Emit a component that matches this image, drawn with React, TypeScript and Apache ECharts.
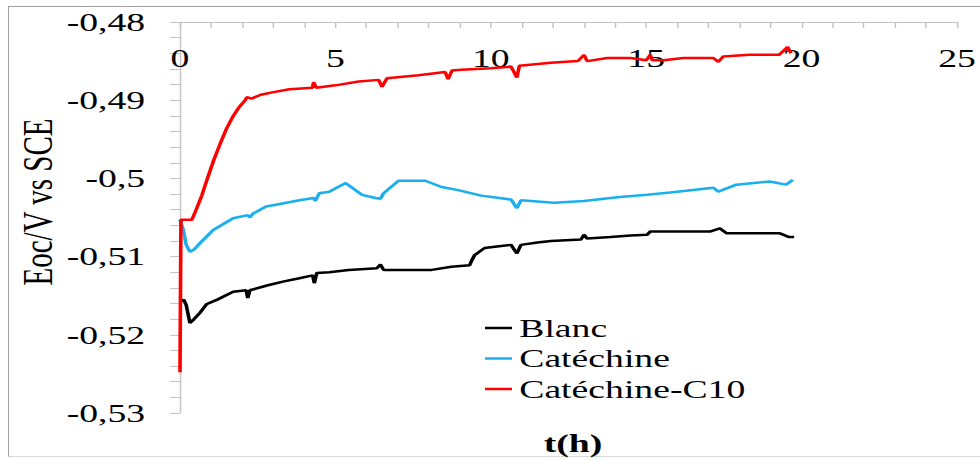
import React, { useEffect, useRef } from "react";
import * as echarts from "echarts";

// ---- data (t in hours, Eoc in V vs SCE) ----
const seriesNames = ["Blanc", "Catéchine", "Catéchine-C10"];
const seriesColors = ["#000000", "#1AB0EE", "#FF0000"];

const blanc: [number, number][] = [
  [0.03, -0.5157], [0.12, -0.5155], [0.2, -0.5162], [0.32, -0.5185], [0.45, -0.518],
  [0.64, -0.5172], [0.85, -0.5161], [1.2, -0.5155], [1.71, -0.5145], [2.13, -0.5143],
  [2.18, -0.5153], [2.25, -0.5143], [2.8, -0.5137], [3.31, -0.5132], [3.8, -0.5128],
  [4.27, -0.5124], [4.32, -0.5134], [4.4, -0.5121], [4.8, -0.512], [5.43, -0.5117],
  [6.33, -0.5115], [6.45, -0.511], [6.55, -0.5117], [7.3, -0.5117], [8.1, -0.5117],
  [8.73, -0.5113], [9.32, -0.5111], [9.4, -0.5104], [9.48, -0.5098], [9.8, -0.5089],
  [10.2, -0.5087], [10.65, -0.5085], [10.84, -0.5096], [10.97, -0.5085], [11.5, -0.5082],
  [11.93, -0.508], [12.9, -0.5078], [13.0, -0.5072], [13.1, -0.5077], [13.85, -0.5075],
  [14.5, -0.5073], [15.03, -0.5072], [15.13, -0.5068], [16.0, -0.5068], [17.05, -0.5068],
  [17.37, -0.5064], [17.58, -0.507], [18.5, -0.507], [19.28, -0.507], [19.6, -0.5075],
  [19.76, -0.5075],
];

const catechine: [number, number][] = [
  [0, -0.5053], [0.1, -0.5065], [0.2, -0.5085], [0.32, -0.5094], [0.45, -0.5091],
  [0.64, -0.5083], [1.07, -0.5066], [1.71, -0.5051], [2.18, -0.5047], [2.25, -0.505],
  [2.35, -0.5045], [2.77, -0.5036], [3.3, -0.5032], [3.84, -0.5028], [4.3, -0.5025],
  [4.35, -0.5029], [4.48, -0.5019], [4.8, -0.5017], [5.33, -0.5006], [5.86, -0.5021],
  [6.29, -0.5025], [6.45, -0.5026], [6.55, -0.5019], [7.03, -0.5003], [7.89, -0.5003],
  [8.42, -0.5011], [8.95, -0.5015], [9.69, -0.5022], [10.65, -0.5027], [10.84, -0.5038],
  [10.97, -0.5028], [12.04, -0.5031], [13.0, -0.5029], [14.07, -0.5024], [15.03, -0.5021],
  [15.77, -0.5018], [17.16, -0.5012], [17.32, -0.5017], [17.9, -0.5008], [18.97, -0.5004],
  [19.5, -0.5008], [19.72, -0.5002],
];

const catechineC10: [number, number][] = [
  [0, -0.5248], [0.03, -0.5053], [0.38, -0.5053], [0.5, -0.5042], [0.7, -0.5022],
  [0.9, -0.4998], [1.1, -0.4975], [1.3, -0.4955], [1.5, -0.4936], [1.7, -0.4921],
  [1.9, -0.4909], [2.1, -0.49], [2.15, -0.4896], [2.3, -0.4898], [2.6, -0.4893],
  [2.97, -0.489], [3.52, -0.4886], [4.26, -0.4884], [4.3, -0.4877], [4.38, -0.4884],
  [5.0, -0.4881], [5.75, -0.4876], [6.39, -0.4874], [6.5, -0.4883], [6.66, -0.4872],
  [7.67, -0.4868], [8.53, -0.4864], [8.63, -0.4873], [8.75, -0.4862], [9.06, -0.4861],
  [10.0, -0.4859], [10.65, -0.4857], [10.84, -0.4871], [10.92, -0.4856], [11.93, -0.4852],
  [12.8, -0.485], [13.0, -0.4842], [13.1, -0.485], [13.75, -0.4846], [14.5, -0.4846],
  [15.0, -0.4849], [15.13, -0.4842], [15.2, -0.4849], [15.56, -0.4849], [16.2, -0.4846],
  [17.16, -0.4846], [17.32, -0.4851], [17.48, -0.4844], [18.32, -0.4842], [19.28, -0.4842],
  [19.55, -0.4832], [19.66, -0.484],
];

const xRange = [0, 25];
const xStep = 5;
const yRange = [-0.53, -0.48];
const yStep = 0.01;

const yAxisTitle = "Eoc/V vs SCE";
const xAxisTitle = "t(h)";

// horizontal stretch of the original figure
const SX = 1.45;
const W = 676;
const H = 460;
const FONT = "Liberation Serif";

const labelRich = {
  t: { fontFamily: FONT, fontSize: 26, color: "#000", lineHeight: 26 },
};

export default function App() {
  const ref = useRef<HTMLDivElement>(null);

  useEffect(() => {
    if (!ref.current) return;
    const chart = echarts.init(ref.current, undefined, { renderer: "svg" });
    const allData = [blanc, catechine, catechineC10];
    chart.setOption({
      animation: false,
      backgroundColor: "transparent",
      textStyle: { fontFamily: FONT },
      grid: { left: 124.14, right: 12.55, top: 22, bottom: 47, containLabel: false },
      legend: {
        orient: "vertical",
        left: 334.5,
        top: 315,
        padding: 0,
        icon: "rect",
        itemWidth: 18.6,
        itemHeight: 2.5,
        itemGap: 4.5,
        data: seriesNames,
        formatter: (name: string) => `{t|${name}}`,
        textStyle: { fontFamily: FONT, fontSize: 26, color: "#000", lineHeight: 26, rich: labelRich },
      },
      xAxis: {
        type: "value",
        position: "top",
        min: xRange[0],
        max: xRange[1],
        interval: xStep,
        axisLine: { show: true, lineStyle: { color: "#c4c4c4", width: 1 } },
        axisTick: { show: true, inside: true, length: 6, lineStyle: { color: "#c4c4c4" } },
        minorTick: { show: true, splitNumber: 5, length: 6, lineStyle: { color: "#c4c4c4" } },
        axisLabel: {
          inside: true,
          margin: 23,
          fontFamily: FONT,
          fontSize: 26,
          color: "#000",
          formatter: (v: number) => `{t|${v}}`,
          rich: labelRich,
        },
        splitLine: { show: false },
      },
      yAxis: {
        type: "value",
        min: yRange[0],
        max: yRange[1],
        interval: yStep,
        axisLine: { show: true, lineStyle: { color: "#c4c4c4", width: 1 } },
        axisTick: { show: true, inside: false, length: 6.9, lineStyle: { color: "#c4c4c4" } },
        minorTick: { show: true, splitNumber: 5, length: 6.9, lineStyle: { color: "#c4c4c4" } },
        axisLabel: {
          margin: 24,
          fontFamily: FONT,
          fontSize: 26,
          color: "#000",
          formatter: (v: number) =>
            `{t|${String(Math.round(v * 100) / 100).replace(".", ",")}}`,
          rich: labelRich,
        },
        splitLine: { show: false },
      },
      graphic: [
        {
          type: "text",
          x: 25.9,
          y: 202,
          rotation: Math.PI / 2,
          style: {
            text: yAxisTitle,
            fontFamily: FONT,
            fontSize: 29,
            fill: "#000",
            align: "center",
            verticalAlign: "middle",
          },
        },
        {
          type: "text",
          x: 395.2,
          y: 443,
          style: {
            text: xAxisTitle,
            fontFamily: FONT,
            fontSize: 26,
            fontWeight: "bold",
            fill: "#000",
            align: "center",
            verticalAlign: "middle",
          },
        },
      ],
      series: seriesNames.map((name, i) => ({
        name,
        type: "line",
        data: allData[i],
        showSymbol: false,
        symbol: "none",
        color: seriesColors[i],
        lineStyle: { color: seriesColors[i], width: 2.5 },
        z: 2 + i,
      })),
    });
    return () => chart.dispose();
  }, []);

  return (
    <div
      style={{
        position: "fixed",
        left: 0,
        top: 0,
        width: 980,
        height: 460,
        overflow: "hidden",
        background: "#fff",
      }}
    >
      <div
        style={{
          position: "absolute",
          left: 8,
          top: 6,
          width: 972,
          height: 451,
          borderLeft: "1px solid #a0a0a0",
          borderTop: "1px solid #a0a0a0",
          borderBottom: "1px solid #dadada",
          boxSizing: "border-box",
        }}
      />
      <div
        ref={ref}
        style={{
          position: "absolute",
          left: 0,
          top: 0,
          width: W,
          height: H,
          transform: `scaleX(${SX})`,
          transformOrigin: "0 0",
        }}
      />
    </div>
  );
}
